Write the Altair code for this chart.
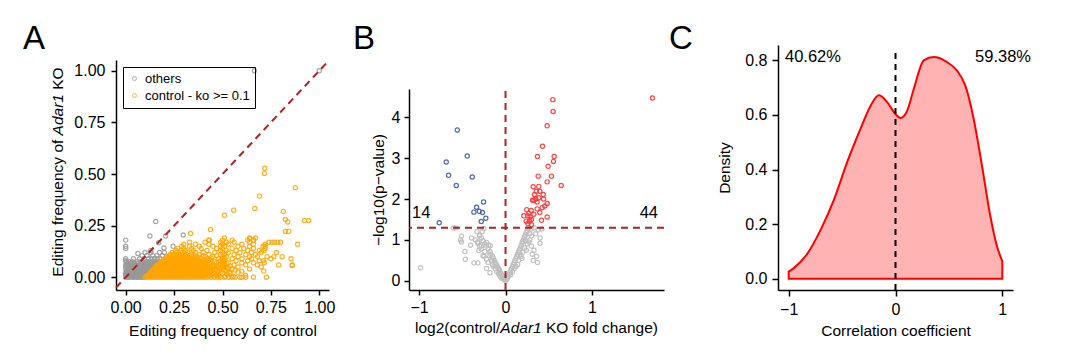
import altair as alt
import pandas as pd

FONT = "Liberation Sans"

# ---------------- Panel A data ----------------
a_gray_levels = [0.0, 0.01, 0.02, 0.03, 0.045, 0.06, 0.075, 0.09, 0.105, 0.12,
                 0.005, 0.015, 0.025, 0.037, 0.052, 0.068]
a_gray_rows = [
    [0.0, 0.012, 0.021, 0.034, 0.043, 0.055, 0.061, 0.072, 0.083, 0.094],
    [0.003, 0.015, 0.027, 0.038, 0.049, 0.058, 0.069, 0.081, 0.092, 0.104],
    [0.0, 0.011, 0.024, 0.036, 0.047, 0.06, 0.071, 0.085, 0.097, 0.108, 0.116],
    [0.002, 0.016, 0.029, 0.041, 0.053, 0.066, 0.078, 0.089, 0.101, 0.113, 0.125],
    [0.0, 0.013, 0.026, 0.04, 0.057, 0.07, 0.083, 0.095, 0.11, 0.124, 0.138],
    [0.005, 0.021, 0.038, 0.052, 0.067, 0.081, 0.098, 0.112, 0.127, 0.141, 0.155],
    [0.018, 0.035, 0.06, 0.078, 0.092, 0.108, 0.121, 0.136, 0.152, 0.168],
    [0.04, 0.072, 0.095, 0.118, 0.134, 0.149, 0.163, 0.178],
    [0.085, 0.11, 0.14, 0.161, 0.19],
    [0.1, 0.13, 0.175, 0.2],
    [0.006, 0.018, 0.029, 0.04, 0.051, 0.066, 0.077, 0.088],
    [0.0, 0.009, 0.021, 0.032, 0.044, 0.054, 0.064, 0.075, 0.087, 0.099, 0.11],
    [0.006, 0.018, 0.031, 0.042, 0.055, 0.065, 0.076, 0.091, 0.103, 0.12],
    [0.008, 0.021, 0.034, 0.047, 0.06, 0.072, 0.084, 0.096, 0.107, 0.119, 0.131],
    [0.003, 0.017, 0.032, 0.046, 0.062, 0.076, 0.09, 0.104, 0.117, 0.132, 0.146],
    [0.01, 0.028, 0.045, 0.064, 0.085, 0.1, 0.115, 0.13, 0.145, 0.16],
]
a_gray_extra_x = [0.665, 1.0, 0.155, 0.125, 0.206, 0.297, 0.0, 0.0, 0.0, 0.17, 0.198,
                  0.063, 0.245, 0.0, 0.005, 0.13, 0.0, 0.0]
a_gray_extra_y = [1.0, 1.0, 0.27, 0.20, 0.20, 0.205, 0.18, 0.15, 0.14, 0.167, 0.142,
                  0.115, 0.15, 0.09, 0.075, 0.13, 0.08, 0.06]

a_orange_levels = [0.0, 0.01, 0.02, 0.03, 0.04, 0.05, 0.06, 0.07, 0.08, 0.09, 0.10,
                   0.11, 0.12, 0.13, 0.14, 0.15, 0.16, 0.17, 0.18, 0.19,
                   0.005, 0.015, 0.025, 0.035, 0.045, 0.055, 0.065, 0.075, 0.085, 0.095, 0.105]
a_orange_rows = [
    [0.10, 0.112, 0.125, 0.137, 0.149, 0.16, 0.172, 0.186, 0.198, 0.21, 0.223, 0.236, 0.249,
     0.262, 0.275, 0.289, 0.301, 0.316, 0.33, 0.345, 0.36, 0.376, 0.39, 0.405, 0.42, 0.44,
     0.458, 0.475, 0.49, 0.51, 0.53, 0.548, 0.565, 0.59, 0.60, 0.62, 0.66, 0.727],
    [0.115, 0.13, 0.145, 0.158, 0.175, 0.19, 0.205, 0.22, 0.238, 0.255, 0.27, 0.287, 0.305,
     0.32, 0.34, 0.358, 0.375, 0.395, 0.415, 0.438, 0.47, 0.619],
    [0.125, 0.14, 0.156, 0.17, 0.184, 0.2, 0.215, 0.232, 0.246, 0.263, 0.28, 0.296, 0.312,
     0.33, 0.35, 0.37, 0.39, 0.41, 0.43, 0.46, 0.5, 0.54],
    [0.135, 0.152, 0.168, 0.182, 0.197, 0.212, 0.228, 0.243, 0.258, 0.275, 0.292, 0.31,
     0.326, 0.345, 0.366, 0.388, 0.412, 0.44, 0.475, 0.52, 0.6, 0.713],
    [0.145, 0.16, 0.176, 0.192, 0.207, 0.222, 0.238, 0.255, 0.27, 0.287, 0.305, 0.322, 0.34,
     0.36, 0.38, 0.405, 0.43, 0.465, 0.5, 0.55, 0.64],
    [0.155, 0.17, 0.186, 0.202, 0.218, 0.234, 0.25, 0.266, 0.283, 0.3, 0.318, 0.336, 0.356,
     0.378, 0.4, 0.425, 0.455, 0.49, 0.52, 0.58, 0.7],
    [0.165, 0.181, 0.197, 0.213, 0.23, 0.246, 0.262, 0.279, 0.296, 0.315, 0.334, 0.352,
     0.372, 0.395, 0.42, 0.45, 0.48, 0.51, 0.56, 0.62, 0.68, 0.79, 0.86],
    [0.178, 0.195, 0.212, 0.228, 0.245, 0.262, 0.28, 0.298, 0.317, 0.337, 0.358, 0.38,
     0.405, 0.435, 0.47, 0.5, 0.53, 0.6, 0.66, 0.716],
    [0.19, 0.207, 0.225, 0.243, 0.26, 0.278, 0.297, 0.316, 0.336, 0.357, 0.38, 0.41, 0.44,
     0.49, 0.51, 0.57, 0.63, 0.69, 0.71],
    [0.205, 0.222, 0.24, 0.258, 0.276, 0.295, 0.315, 0.336, 0.36, 0.39, 0.42, 0.48, 0.5,
     0.55, 0.6, 0.65, 0.75, 0.854],
    [0.215, 0.235, 0.255, 0.275, 0.296, 0.318, 0.342, 0.37, 0.41, 0.45, 0.5, 0.52, 0.58,
     0.64, 0.68, 0.73, 0.765, 0.808],
    [0.23, 0.25, 0.27, 0.29, 0.315, 0.34, 0.38, 0.43, 0.49, 0.51, 0.56, 0.62, 0.67],
    [0.24, 0.265, 0.29, 0.32, 0.36, 0.4, 0.46, 0.5, 0.53, 0.59, 0.65, 0.7, 0.778],
    [0.26, 0.285, 0.31, 0.35, 0.42, 0.49, 0.52, 0.57, 0.63, 0.69, 0.715],
    [0.27, 0.3, 0.34, 0.39, 0.47, 0.5, 0.55, 0.61, 0.66, 0.72],
    [0.29, 0.33, 0.38, 0.45, 0.49, 0.51, 0.58, 0.64, 0.71, 0.72],
    [0.3, 0.36, 0.43, 0.5, 0.53, 0.6, 0.66, 0.72],
    [0.33, 0.41, 0.49, 0.52, 0.56, 0.64, 0.74, 0.756, 0.77, 0.785, 0.80],
    [0.43, 0.5, 0.55, 0.63, 0.66],
    [0.51, 0.64, 0.67],
    [0.108, 0.121, 0.143, 0.166, 0.18, 0.193, 0.216, 0.229, 0.244, 0.268, 0.282, 0.296, 0.31,
     0.335, 0.352, 0.368, 0.384, 0.4, 0.428, 0.45, 0.482, 0.515, 0.556],
    [0.12, 0.135, 0.151, 0.164, 0.179, 0.196, 0.21, 0.226, 0.241, 0.259, 0.276, 0.292, 0.308,
     0.326, 0.344, 0.364, 0.382, 0.402, 0.422, 0.448, 0.478, 0.525],
    [0.13, 0.146, 0.162, 0.177, 0.191, 0.206, 0.222, 0.237, 0.253, 0.269, 0.286, 0.303, 0.32,
     0.338, 0.358, 0.38, 0.4, 0.425, 0.452, 0.49, 0.535, 0.58],
    [0.14, 0.157, 0.173, 0.188, 0.203, 0.218, 0.233, 0.249, 0.265, 0.281, 0.298, 0.316, 0.333,
     0.352, 0.372, 0.395, 0.42, 0.45, 0.485, 0.51, 0.565],
    [0.15, 0.165, 0.181, 0.197, 0.213, 0.229, 0.245, 0.26, 0.277, 0.294, 0.312, 0.33, 0.35,
     0.37, 0.392, 0.415, 0.442, 0.478, 0.505, 0.53],
    [0.16, 0.176, 0.192, 0.208, 0.224, 0.24, 0.256, 0.273, 0.29, 0.308, 0.326, 0.345, 0.366,
     0.39, 0.41, 0.437, 0.468, 0.5, 0.54],
    [0.172, 0.188, 0.204, 0.221, 0.238, 0.254, 0.27, 0.288, 0.306, 0.325, 0.345, 0.365, 0.39,
     0.412, 0.44, 0.49, 0.52],
    [0.185, 0.2, 0.218, 0.236, 0.253, 0.27, 0.289, 0.308, 0.327, 0.348, 0.37, 0.395, 0.42,
     0.46, 0.505],
    [0.198, 0.215, 0.233, 0.25, 0.268, 0.287, 0.306, 0.326, 0.347, 0.37, 0.4, 0.43, 0.5],
    [0.21, 0.228, 0.247, 0.266, 0.285, 0.305, 0.326, 0.35, 0.38, 0.44, 0.51],
    [0.225, 0.245, 0.265, 0.285, 0.306, 0.33, 0.36, 0.4, 0.47],
]
a_orange_extra_x = [0.718, 0.716, 0.876, 0.691, 0.558, 0.667, 0.51, 0.814, 0.825, 0.837,
                    0.923, 0.945, 0.825, 0.842, 0.438, 0.335, 0.888, 0.641, 0.66, 0.43, 0.86]
a_orange_extra_y = [0.528, 0.503, 0.434, 0.393, 0.325, 0.333, 0.30, 0.319, 0.28, 0.268,
                    0.275, 0.275, 0.222, 0.222, 0.231, 0.212, 0.16, 0.188, 0.18, 0.18, 0.057]

a_groups = ["others", "control - ko >= 0.1"]

# ---------------- Panel B data ----------------
b_blue_x = [-0.558, -0.686, -0.659, -0.57, -0.443, -0.385, -0.254, -0.335, -0.366, -0.304,
            -0.266, -0.228, -0.281, -0.767]
b_blue_y = [3.69, 2.905, 2.58, 2.33, 3.05, 2.54, 1.93, 1.80, 1.68, 1.70, 1.67, 1.53, 1.45, 1.42]

b_red_x = [1.70, 0.547, 0.551, 0.482, 0.428, 0.37, 0.563, 0.555, 0.493, 0.378, 0.532, 0.644,
           0.482, 0.32, 0.385, 0.355, 0.397, 0.436, 0.335, 0.385, 0.312, 0.328, 0.366, 0.482,
           0.246, 0.297, 0.366, 0.424, 0.455, 0.328, 0.397, 0.212, 0.258, 0.285, 0.239, 0.277,
           0.30, 0.416, 0.482, 0.30, 0.26, 0.35, 0.44, 0.27]
b_red_y = [4.47, 4.43, 4.14, 3.79, 3.29, 3.04, 3.04, 2.92, 2.80, 2.56, 2.56, 2.33, 2.42, 2.30,
           2.31, 2.19, 2.19, 2.11, 2.11, 2.03, 1.97, 1.97, 1.93, 1.89, 1.74, 1.72, 1.76, 1.79,
           1.83, 1.63, 1.67, 1.59, 1.59, 1.57, 1.46, 1.46, 1.37, 1.48, 1.56, 1.50, 1.40, 2.0,
           2.0, 1.65]

b_gray_x = [-0.983, -0.605, -0.578, -0.509, -0.52, -0.51, -0.47, -0.465, -0.393, -0.405, -0.32,
            -0.31, -0.366, -0.32, -0.22, -0.195, -0.175, -0.26, -0.22, -0.16, -0.25, -0.27, -0.3,
            -0.35, -0.28,
            -0.01, -0.02, -0.03, -0.04, -0.05, -0.06, -0.07, -0.08, -0.09, -0.1, -0.11, -0.12,
            -0.13, -0.14, -0.15, -0.17, -0.18, -0.2, -0.22, -0.24, -0.26, -0.28, -0.3, -0.33,
            -0.2, -0.15, -0.12, -0.1, -0.08, -0.06, -0.25, -0.28, -0.3, -0.32, -0.22, -0.18,
            -0.04, -0.07, -0.14, -0.16, -0.19, -0.24,
            0.0, 0.01, 0.02, 0.03, 0.04, 0.05, 0.06, 0.07, 0.08, 0.09, 0.1, 0.11, 0.12, 0.13,
            0.14, 0.15, 0.16, 0.17, 0.18, 0.19, 0.2, 0.21, 0.22, 0.23, 0.24, 0.25, 0.26, 0.15,
            0.18, 0.2, 0.22, 0.25, 0.28, 0.3, 0.12, 0.1, 0.08, 0.06, 0.3, 0.33, 0.36, 0.32, 0.4,
            0.4, 0.38, 0.33, 0.3, 0.27, 0.24, 0.19, 0.14, 0.35, 0.42, 0.37, 0.17, 0.23, 0.28,
            0.31]
b_gray_y = [0.32, 1.29, 1.29, 1.10, 1.0, 0.95, 0.72, 0.53, 1.05, 0.87, 0.92, 0.74, 0.44, 0.44,
            0.94, 0.88, 0.86, 0.62, 0.53, 0.49, 1.28, 1.2, 1.1, 1.0, 0.85,
            0.02, 0.05, 0.1, 0.14, 0.18, 0.2, 0.26, 0.3, 0.33, 0.37, 0.42, 0.45, 0.5, 0.55, 0.6,
            0.65, 0.72, 0.78, 0.85, 0.9, 0.98, 1.05, 1.12, 1.2, 0.45, 0.4, 0.3, 0.22, 0.18, 0.1,
            0.6, 0.78, 0.85, 0.95, 0.3, 0.2, 0.06, 0.15, 0.35, 0.5, 0.62, 0.72,
            0.0, 0.03, 0.06, 0.1, 0.15, 0.2, 0.25, 0.3, 0.35, 0.4, 0.45, 0.5, 0.55, 0.6, 0.65,
            0.7, 0.75, 0.8, 0.86, 0.92, 0.97, 1.02, 1.07, 1.12, 1.18, 1.22, 1.28, 0.5, 0.6, 0.7,
            0.8, 0.9, 1.0, 1.1, 0.35, 0.3, 0.22, 0.15, 0.85, 0.75, 0.6, 0.5, 1.05, 0.92, 1.25,
            1.3, 1.27, 0.95, 0.75, 0.55, 0.4, 1.15, 1.27, 0.45, 0.65, 0.98, 1.15, 0.65]

b_groups = ["ns", "down", "up"]
b_left_count = "14"
b_right_count = "44"

# ---------------- Panel C data ----------------
c_x = [-1.0, -0.95, -0.82, -0.70, -0.576, -0.45, -0.327, -0.234, -0.156, -0.078, 0.0, 0.047,
       0.109, 0.171, 0.265, 0.358, 0.483, 0.576, 0.654, 0.732, 0.81, 0.888, 0.95, 1.0]
c_density = [0.026, 0.04, 0.095, 0.18, 0.29, 0.43, 0.55, 0.633, 0.672, 0.647, 0.603, 0.589,
             0.615, 0.695, 0.80, 0.812, 0.793, 0.762, 0.707, 0.585, 0.413, 0.229, 0.119, 0.064]
c_left_pct = "40.62%"
c_right_pct = "59.38%"

# ---------------- build tables ----------------
ax, ay, ag = [], [], []
for lvl, xs in zip(a_gray_levels, a_gray_rows):
    for v in xs:
        ax.append(v); ay.append(lvl); ag.append(a_groups[0])
for v, w in zip(a_gray_extra_x, a_gray_extra_y):
    ax.append(v); ay.append(w); ag.append(a_groups[0])
for lvl, xs in zip(a_orange_levels, a_orange_rows):
    for v in xs:
        ax.append(v); ay.append(lvl); ag.append(a_groups[1])
for v, w in zip(a_orange_extra_x, a_orange_extra_y):
    ax.append(v); ay.append(w); ag.append(a_groups[1])
df_a = pd.DataFrame({"x": ax, "y": ay, "g": ag})

df_b = pd.DataFrame({
    "x": b_gray_x + b_blue_x + b_red_x,
    "y": b_gray_y + b_blue_y + b_red_y,
    "g": [b_groups[0]] * len(b_gray_x) + [b_groups[1]] * len(b_blue_x) + [b_groups[2]] * len(b_red_x),
})
df_c = pd.DataFrame({"x": c_x, "d": c_density})

LAB = 15.5   # axis title size
TICK = 16    # tick label size
ANN = 16.5   # in-plot annotations


def txt(text, x, y, size=LAB, angle=0, align="left", baseline="alphabetic", style="normal"):
    return alt.Chart(pd.DataFrame({"t": [text]})).mark_text(
        align=align, baseline=baseline, angle=angle, fontSize=size, fontStyle=style,
        font=FONT, color="black"
    ).encode(x=alt.value(x), y=alt.value(y), text="t:N")


DARKRED = "#B22222"
H = 245  # common view height; each panel maps its y scale to its own sub-range

# ---------------- Panel A ----------------
WA = 213
a_dom = [-0.05, 1.05]
xa = alt.Scale(domain=a_dom, nice=False, zero=False)
ya = alt.Scale(domain=[-0.0615, 1.052], nice=False, zero=False, range=[H, 15])

pts_a = alt.Chart(df_a).mark_point(filled=False, size=18, strokeWidth=1.2, opacity=0.85).encode(
    x=alt.X("x:Q", scale=xa, axis=alt.Axis(values=[0, 0.25, 0.5, 0.75, 1.0], format=".2f",
                                           title="Editing frequency of control",
                                           titleY=40, titleBaseline="middle")),
    y=alt.Y("y:Q", scale=ya, axis=alt.Axis(values=[0, 0.25, 0.5, 0.75, 1.0], format=".2f",
                                           title=None, labelPadding=6)),
    color=alt.Color("g:N", scale=alt.Scale(domain=a_groups, range=["#999999", "#FFA500"]),
                    legend=alt.Legend(title=None, orient="none", legendX=7, legendY=22,
                                      strokeColor="black", padding=5, labelFontSize=13,
                                      labelColor="black", symbolSize=16, symbolStrokeWidth=1,
                                      labelFont=FONT, rowPadding=3, symbolOpacity=0.8)),
)
diag = alt.Chart(pd.DataFrame({"lo": [a_dom[0]], "hi": [a_dom[1]]})).mark_rule(
    color=DARKRED, strokeWidth=2, strokeDash=[7, 5]
).encode(x="lo:Q", y="lo:Q", x2="hi:Q", y2="hi:Q")
spacer_a = alt.Chart(pd.DataFrame({"t": [0]})).mark_rule(opacity=0, color="white").encode(
    x=alt.value(WA + 20), y=alt.value(100), y2=alt.value(102))

# widths of the title pieces (Liberation Sans em widths)
w1 = 9.116 * LAB
w2 = 2.668 * LAB
sp = 0.278 * LAB
a_total = w1 + w2 + sp + 1.445 * LAB
a_title_bottom = 127 + a_total / 2
panel_a = alt.layer(
    pts_a, diag, spacer_a,
    txt("A", -93, 4, size=33),
    txt("Editing frequency of ", -58, a_title_bottom, angle=270, baseline="middle"),
    txt("Adar1", -58, a_title_bottom - w1, angle=270, baseline="middle", style="italic"),
    txt("KO", -58, a_title_bottom - w1 - w2 - sp, angle=270, baseline="middle"),
).properties(width=WA, height=H)

# ---------------- Panel B ----------------
WB = 255
b_ydom = [-0.2235, 4.69]
xb = alt.Scale(domain=[-1.117, 1.834], nice=False, zero=False)
yb = alt.Scale(domain=b_ydom, nice=False, zero=False, range=[H, 44])
pts_b = alt.Chart(df_b).mark_point(filled=False, size=18, strokeWidth=1.2, opacity=0.9).encode(
    x=alt.X("x:Q", scale=xb, axis=alt.Axis(values=[-1, 0, 1], format="d", title=None)),
    y=alt.Y("y:Q", scale=yb, axis=alt.Axis(values=[0, 1, 2, 3, 4], format="d",
                                           title="\u2212log10(p\u2212value)",
                                           titleX=-31, titleBaseline="middle")),
    color=alt.Color("g:N", scale=alt.Scale(domain=b_groups, range=["#BEBEBE", "#3F5AA8", "#FF3535"]),
                    legend=None),
)
hline = alt.Chart(pd.DataFrame({"p": [1.30103]})).mark_rule(
    color=DARKRED, strokeWidth=2, strokeDash=[7, 5]).encode(y="p:Q")
vline = alt.Chart(pd.DataFrame({"v": [0], "lo": [b_ydom[0]], "hi": [b_ydom[1]]})).mark_rule(
    color=DARKRED, strokeWidth=2, strokeDash=[7, 5]).encode(x="v:Q", y="lo:Q", y2="hi:Q")
bw1 = 5.502 * LAB
b_total = bw1 + w2 + sp + 7.226 * LAB
b_title_left = 127.5 - b_total / 2
panel_b = alt.layer(
    pts_b, hline, vline,
    txt("B", -56, 4, size=33),
    txt(b_left_count, 3, 173, size=ANN),
    txt(b_right_count, 249, 173, size=ANN, align="right"),
    txt("log2(control/", b_title_left, 283, baseline="middle"),
    txt("Adar1", b_title_left + bw1, 283, baseline="middle", style="italic"),
    txt("KO fold change)", b_title_left + bw1 + w2 + sp, 283, baseline="middle"),
).properties(width=WB, height=H)

# ---------------- Panel C ----------------
WC = 235
xc = alt.Scale(domain=[-1.1, 1.1], nice=False, zero=False)
yc = alt.Scale(domain=[-0.041, 0.856], nice=False, zero=False)
area_c = alt.Chart(df_c).mark_area(
    fill="#FFB3B3", stroke="#FF0000", strokeWidth=2, interpolate="monotone"
).encode(
    x=alt.X("x:Q", scale=xc, axis=alt.Axis(values=[-1, 0, 1], format="d",
                                           title="Correlation coefficient",
                                           titleY=40, titleBaseline="middle",
                                           tickSize=6, labelPadding=5)),
    y=alt.Y("d:Q", scale=yc, axis=alt.Axis(values=[0, 0.2, 0.4, 0.6, 0.8], format=".1f",
                                           title="Density", titleX=-54,
                                           titleBaseline="middle", tickSize=6, labelPadding=5)),
    y2=alt.datum(0),
)
vline_c = alt.Chart(pd.DataFrame({"v": [0], "lo": [-0.041], "hi": [0.827]})).mark_rule(
    color="black", strokeWidth=2, strokeDash=[6, 5]
).encode(x="v:Q", y="lo:Q", y2="hi:Q")
panel_c = alt.layer(
    area_c, vline_c,
    txt("C", -109, 4, size=33),
    txt(c_left_pct, 7, 17, size=ANN),
    txt(c_right_pct, 253, 17, size=ANN, align="right"),
).properties(width=WC, height=H)

chart = alt.hconcat(panel_a, panel_b, panel_c, spacing=4).resolve_scale(
    x="independent", y="independent", color="independent"
).properties(
    padding={"left": 15, "top": 15, "right": 5, "bottom": 5}
).configure(font=FONT).configure_axis(
    labelFontSize=TICK, titleFontSize=LAB, labelColor="black", titleColor="black",
    domainColor="black", tickColor="black", grid=False, titleFontWeight="normal",
    labelFont=FONT, titleFont=FONT, domainWidth=1.5, tickWidth=1.5, tickSize=5,
    labelPadding=4
).configure_view(stroke=None)

chart.save("out.html", embed_options={"renderer": "svg", "actions": False})
